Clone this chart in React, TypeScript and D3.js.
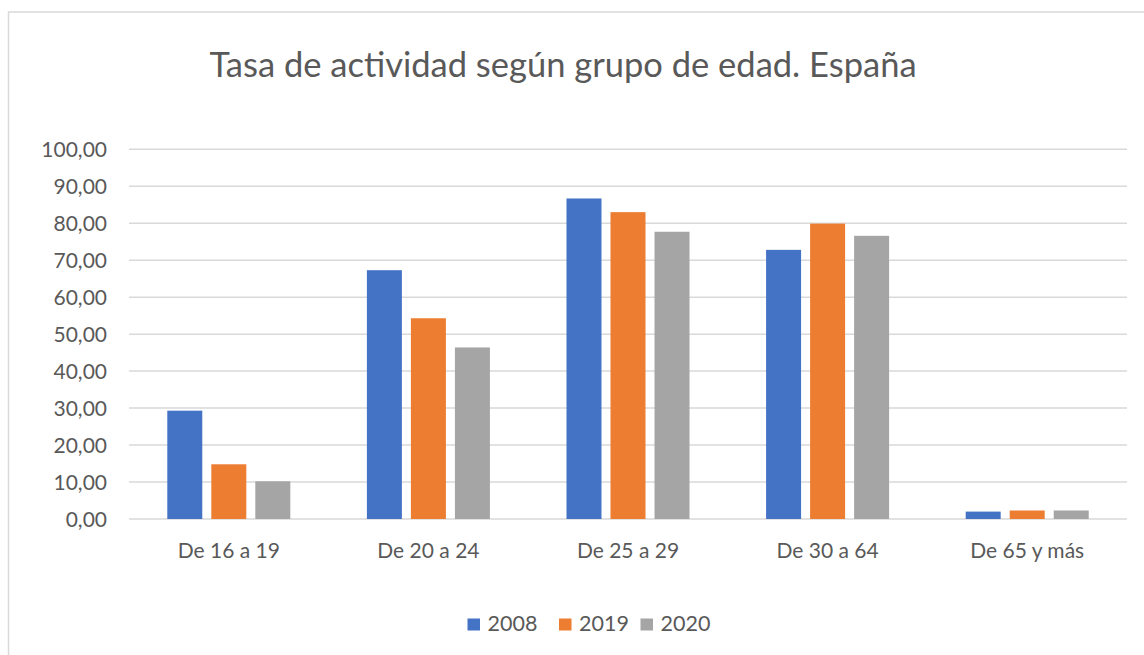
import React from 'react';
import { scaleBand, scaleLinear, formatLocale } from 'd3';

const categories = ['De 16 a 19', 'De 20 a 24', 'De 25 a 29', 'De 30 a 64', 'De 65 y más'];
const seriesNames = ['2008', '2019', '2020'];
const values2008 = [29.3, 67.3, 86.7, 72.8, 2.0];
const values2019 = [14.8, 54.3, 83.0, 79.9, 2.3];
const values2020 = [10.2, 46.4, 77.7, 76.6, 2.3];
const yTicks = [0, 10, 20, 30, 40, 50, 60, 70, 80, 90, 100];
const colors = ['#4472C4', '#ED7D31', '#A5A5A5'];

const title = 'Tasa de actividad según grupo de edad. España';

const W = 1144;
const H = 655;
const font = 'Lato, "Open Sans", sans-serif';
const textColor = '#595959';

const fmt = formatLocale({ decimal: ',', thousands: '.', grouping: [3], currency: ['', '€'] }).format('.2f');

const App = () => {
  const series = [values2008, values2019, values2020];
  const left = 129;
  const right = 1127;
  const top = 149.3;
  const bottom = 519;

  const x0 = scaleBand().domain(categories).range([left, right]).padding(0);
  const x1 = scaleBand()
    .domain(seriesNames)
    .range([0, x0.bandwidth()])
    .paddingInner(0.205)
    .paddingOuter(0.87);
  const y = scaleLinear().domain([0, 100]).range([bottom, top]);

  // legend layout
  const legendX = [467.5, 559, 640.5];

  return (
    <svg
      width={W}
      height={H}
      style={{ position: 'absolute', left: 0, top: 0, background: '#fff' }}
      fontFamily={font}
    >
      <rect x={0} y={0} width={W} height={H} fill='#fff' />
      <rect x={8.5} y={12} width={W + 20} height={H + 20} fill='none' stroke='#d9d9d9' strokeWidth={1.5} />

      <text x={563} y={77} textAnchor='middle' fontSize={34.5} fill={textColor}>
        {title}
      </text>

      <g className='grid'>
        {yTicks.map((t) => (
          <g key={t}>
            <line x1={left} x2={right} y1={y(t)} y2={y(t)} stroke='#d9d9d9' strokeWidth={1.5} />
            <text x={107} y={y(t)} dy='0.36em' textAnchor='end' fontSize={21} fill={textColor}>
              {fmt(t)}
            </text>
          </g>
        ))}
      </g>

      <g className='bars'>
        {categories.map((c, i) => (
          <g key={c} transform={`translate(${x0(c)},0)`}>
            {seriesNames.map((s, j) => (
              <rect
                key={s}
                x={x1(s)}
                width={x1.bandwidth()}
                y={y(series[j][i])}
                height={bottom - y(series[j][i])}
                fill={colors[j]}
              />
            ))}
          </g>
        ))}
      </g>

      <g className='x-axis'>
        {categories.map((c) => (
          <text
            key={c}
            x={x0(c) + x0.bandwidth() / 2}
            y={558}
            textAnchor='middle'
            fontSize={21}
            fill={textColor}
          >
            {c}
          </text>
        ))}
      </g>

      <g className='legend'>
        {seriesNames.map((s, j) => (
          <g key={s} transform={`translate(${legendX[j]},618.5)`}>
            <rect width={12.5} height={12} fill={colors[j]} />
            <text x={20} y={12.5} fontSize={21.5} fill={textColor}>
              {s}
            </text>
          </g>
        ))}
      </g>
    </svg>
  );
};

export default App;
